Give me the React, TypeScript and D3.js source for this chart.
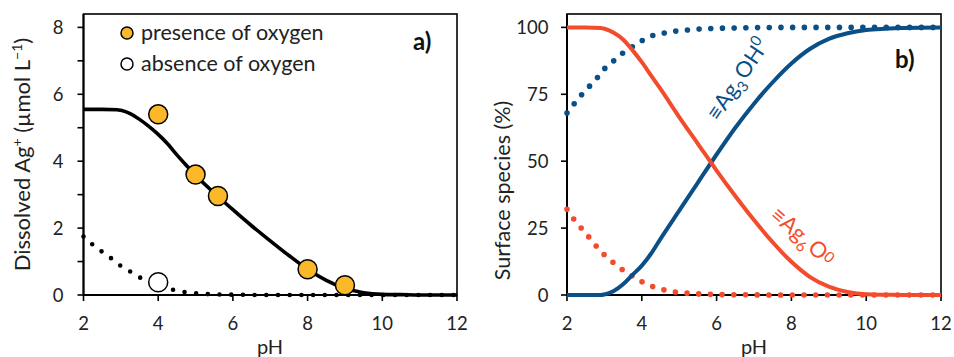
import React from "react";
import * as d3 from "d3";

// ---- panel a data ----
const phModelA = [2, 2.5, 2.9, 3, 3.25, 3.5, 3.75, 4, 4.25, 4.5, 4.75, 5, 5.5, 6, 6.5, 7, 7.5, 8, 8.5, 9, 9.5, 10, 10.5, 11, 12];
const agModelOxic = [5.55, 5.55, 5.54, 5.52, 5.42, 5.25, 5.04, 4.8, 4.52, 4.19, 3.88, 3.58, 3.05, 2.55, 2.07, 1.62, 1.18, 0.77, 0.44, 0.2, 0.07, 0.02, 0.01, 0, 0];
const phModelAnoxic = [2, 2.25, 2.5, 2.75, 3, 3.25, 3.5, 3.75, 4, 4.25, 4.5, 4.75, 5, 5.5, 6, 7, 8, 12];
const agModelAnoxic = [1.75, 1.5, 1.29, 1.09, 0.87, 0.7, 0.53, 0.4, 0.3, 0.2, 0.13, 0.08, 0.05, 0.02, 0.01, 0, 0, 0];
const phOxic = [4, 5, 5.6, 8, 9];
const agOxic = [5.4, 3.6, 2.96, 0.77, 0.29];
const phAnoxic = [4];
const agAnoxic = [0.38];
const yTicksA = [0, 1, 2, 3, 4, 5, 6, 7, 8];
const yLabelsA = [0, 2, 4, 6, 8];

// ---- panel b data ----
const phModelB = [2, 2.5, 2.9, 3, 3.25, 3.5, 3.75, 4, 4.25, 4.5, 5, 5.5, 6, 6.5, 7, 7.5, 8, 8.5, 9, 9.5, 10, 10.5, 11, 12];
const ag3ohOxic = [0, 0, 0, 0.2, 1.5, 4, 7.5, 11, 15.5, 21, 31.5, 42, 52.5, 62.5, 71.5, 79.5, 86.5, 92, 95.7, 97.8, 99, 99.5, 99.8, 100];
const ag6oOxic = [100, 100, 99.8, 99.5, 98, 95.5, 91.5, 87, 82, 77, 66.5, 56.5, 46.5, 37, 28, 19.7, 12.4, 6.7, 3.1, 1.1, 0.25, 0.1, 0.02, 0];
const phModelB2 = [2, 2.2, 2.4, 2.6, 2.8, 3, 3.25, 3.5, 3.75, 4, 4.3, 4.6, 4.9, 5.3, 5.7, 6.5, 8, 12];
const ag3ohAnoxic = [68, 71.6, 75, 78, 81, 84.5, 87.5, 90.5, 92.8, 95, 97, 97.9, 98.6, 99.1, 99.5, 99.8, 100, 100];
const ag6oAnoxic = [32, 28, 24.7, 21.4, 18, 15, 12, 9.3, 7.1, 5, 3.1, 1.9, 1.1, 0.6, 0.3, 0.1, 0, 0];
const yTicksB = [0, 25, 50, 75, 100];

const phTicks = [2, 4, 6, 8, 10, 12];

const FONT = "Lato, 'Open Sans', sans-serif";
const BLUE = "#0b4f87";
const RED = "#f34c2c";
const ORANGE = "#fbb829";
const TXT = "#222";

const top = 14;
const bottom = 295;

type Pt = [number, number];
const zip = (xs: number[], ys: number[]): Pt[] => xs.map((x, i) => [x, ys[i]]);

export default function App() {
  const xA = d3.scaleLinear().domain([2, 12]).range([83.5, 457]);
  const yA = d3.scaleLinear().domain([0, 8.4]).range([bottom, top]);
  const xB = d3.scaleLinear().domain([2, 12]).range([567, 941]);
  const yB = d3.scaleLinear().domain([0, 105]).range([bottom, top]);

  const lineA = d3
    .line<Pt>()
    .x((d) => xA(d[0]))
    .y((d) => yA(d[1]))
    .curve(d3.curveMonotoneX);
  const lineB = d3
    .line<Pt>()
    .x((d) => xB(d[0]))
    .y((d) => yB(d[1]))
    .curve(d3.curveMonotoneX);

  const frame = (x: d3.ScaleLinear<number, number>) => (
    <rect
      x={x.range()[0]}
      y={top}
      width={x.range()[1] - x.range()[0]}
      height={bottom - top}
      fill="none"
      stroke="#000"
      strokeWidth={1.6}
    />
  );

  const xAxis = (x: d3.ScaleLinear<number, number>) => (
    <g>
      <line x1={x.range()[0]} x2={x.range()[1]} y1={bottom} y2={bottom} stroke="#000" strokeWidth={2} />
      {phTicks.map((t) => (
        <g key={t}>
          <line x1={x(t)} x2={x(t)} y1={bottom} y2={bottom + 6} stroke="#000" strokeWidth={1.6} />
          <text x={x(t)} y={329.5} textAnchor="middle" fontSize={18.5} fontFamily={FONT} fill={TXT}>
            {t}
          </text>
        </g>
      ))}
    </g>
  );

  const dotted = { fill: "none", strokeDasharray: "0 11.7", strokeLinecap: "round" as const };

  return (
    <svg width={954} height={357} style={{ position: "absolute", left: 0, top: 0, background: "#fff" }}>
      {/* ---------- panel a ---------- */}
      {frame(xA)}
      <line x1={83.5} x2={83.5} y1={top} y2={bottom} stroke="#000" strokeWidth={2} />
      {yTicksA.map((t) => (
        <line key={t} x1={77.5} x2={83.5} y1={yA(t)} y2={yA(t)} stroke="#000" strokeWidth={1.6} />
      ))}
      {yLabelsA.map((t) => (
        <text key={t} x={63.5} y={yA(t) + 6.5} textAnchor="end" fontSize={18.5} fontFamily={FONT} fill={TXT}>
          {t}
        </text>
      ))}
      {xAxis(xA)}
      <path d={lineA(zip(phModelAnoxic, agModelAnoxic)) || ""} stroke="#000" strokeWidth={4.6} {...dotted} />
      <path d={lineA(zip(phModelA, agModelOxic)) || ""} fill="none" stroke="#000" strokeWidth={3.6} />
      {phOxic.map((p, i) => (
        <circle key={p} cx={xA(p)} cy={yA(agOxic[i])} r={9.5} fill={ORANGE} stroke="#000" strokeWidth={1.5} />
      ))}
      {phAnoxic.map((p, i) => (
        <circle key={p} cx={xA(p)} cy={yA(agAnoxic[i])} r={9.5} fill="#fff" stroke="#000" strokeWidth={1.5} />
      ))}
      <circle cx={127} cy={33} r={6} fill={ORANGE} stroke="#000" strokeWidth={1.5} />
      <text x={141} y={40} fontSize={21.5} fontFamily={FONT} fill={TXT}>presence of oxygen</text>
      <circle cx={127} cy={64} r={6} fill="#fff" stroke="#000" strokeWidth={1.5} />
      <text x={141} y={71} fontSize={21.5} fontFamily={FONT} fill={TXT}>absence of oxygen</text>
      <text x={413} y={50} fontSize={24} fontWeight="bold" fontFamily={FONT} fill="#111">a)</text>
      <text x={270} y={353.5} textAnchor="middle" fontSize={20} fontFamily={FONT} fill={TXT}>pH</text>
      <text
        transform="translate(30,154.5) rotate(-90)"
        textAnchor="middle"
        fontSize={22}
        fontFamily={FONT}
        fill={TXT}
      >
        Dissolved Ag<tspan fontSize={14} dy={-8}>+</tspan>
        <tspan dy={8}> (µmol L</tspan>
        <tspan fontSize={14} dy={-8}>−1</tspan>
        <tspan dy={8}>)</tspan>
      </text>

      {/* ---------- panel b ---------- */}
      {frame(xB)}
      <line x1={567} x2={567} y1={top} y2={bottom} stroke="#000" strokeWidth={2} />
      {yTicksB.map((t) => (
        <g key={t}>
          <line x1={561} x2={567} y1={yB(t)} y2={yB(t)} stroke="#000" strokeWidth={1.6} />
          <text x={548.5} y={yB(t) + 6.5} textAnchor="end" fontSize={18.5} fontFamily={FONT} fill={TXT}>
            {t}
          </text>
        </g>
      ))}
      {xAxis(xB)}
      <path d={lineB(zip(phModelB2, ag3ohAnoxic)) || ""} stroke={BLUE} strokeWidth={5.6} {...dotted} />
      <path d={lineB(zip(phModelB2, ag6oAnoxic)) || ""} stroke={RED} strokeWidth={5.6} {...dotted} />
      <path d={lineB(zip(phModelB, ag3ohOxic)) || ""} fill="none" stroke={BLUE} strokeWidth={4} />
      <path d={lineB(zip(phModelB, ag6oOxic)) || ""} fill="none" stroke={RED} strokeWidth={4} />
      <text x={895} y={68} fontSize={24} fontWeight="bold" fontFamily={FONT} fill="#111">b)</text>
      <text x={754} y={353.5} textAnchor="middle" fontSize={20} fontFamily={FONT} fill={TXT}>pH</text>
      <text
        transform="translate(510,190.5) rotate(-90)"
        textAnchor="middle"
        fontSize={21.5}
        fontFamily={FONT}
        fill={TXT}
      >
        Surface species (%)
      </text>
      <text transform="translate(718,122) rotate(-56)" fontSize={22} fontFamily={FONT} fill={BLUE}>
        ≡Ag<tspan fontSize={15} dy={6}>3</tspan>
        <tspan dx={2} dy={-6}>OH</tspan>
        <tspan fontSize={15} dy={-9}>0</tspan>
      </text>
      <text transform="translate(769,217) rotate(41)" fontSize={22} fontFamily={FONT} fill={RED}>
        ≡Ag<tspan fontSize={15} dy={6}>6</tspan>
        <tspan dx={2} dy={-6}>O</tspan>
        <tspan fontSize={15} dy={-4}>0</tspan>
      </text>
    </svg>
  );
}
